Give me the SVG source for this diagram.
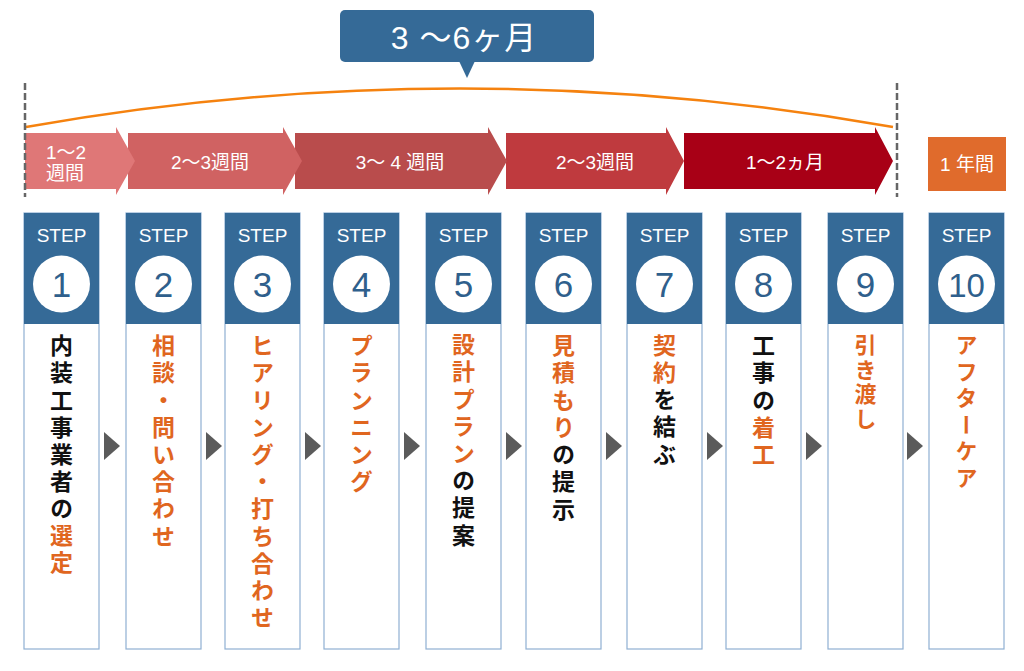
<svg xmlns="http://www.w3.org/2000/svg" width="1024" height="671" viewBox="0 0 1024 671">
<style>
.card{fill:#ffffff;stroke:#8fb0d2;stroke-width:1.2}
.hdr{fill:#356a97}
.circ{fill:#ffffff}
.step{font-family:"Liberation Sans","Noto Sans",sans-serif;font-size:19px;fill:#ffffff;text-anchor:middle}
.num{font-family:"Liberation Sans","Noto Sans",sans-serif;font-size:35px;fill:#2f5f8c;text-anchor:middle}
.vt{font-family:"Noto Sans CJK JP","Noto Sans CJK SC",sans-serif;font-size:23px;font-weight:700;writing-mode:vertical-rl;letter-spacing:4.2px}
.or{fill:#e0661f}
.bk{fill:#111111}
.tri{fill:#5b5b5b}
.dur{font-family:"Liberation Sans","Noto Sans CJK JP",sans-serif;font-size:19px;fill:#ffffff;text-anchor:middle}
.dash{stroke:#666666;stroke-width:2.5;stroke-dasharray:7 3;fill:none}
</style>

<g id="timeline">
  <path d="M26,127 Q460,50 893,127" fill="none" stroke="#f5820f" stroke-width="2.5"/>
  <g id="callout">
    <rect x="340" y="10" width="254" height="52" rx="5" fill="#356a97"/>
    <polygon points="459,61 475,61 467,78" fill="#356a97"/>
    <text x="464" y="49" font-family="Liberation Sans,'Noto Sans CJK JP',sans-serif" font-size="32" fill="#ffffff" text-anchor="middle" letter-spacing="1">3 〜6ヶ月</text>
  </g>
  <g id="dur5"><path d="M684,133 H875 V127 L893,161 L875,195 V189 H684 Z" fill="#a80016"/><text class="dur" x="785" y="169">1〜2ヵ月</text></g>
  <g id="dur4"><path d="M506,133 H666 V127 L684,161 L666,195 V189 H506 Z" fill="#bf3a3e"/><text class="dur" x="595" y="169">2〜3週間</text></g>
  <g id="dur3"><path d="M295,133 H488 V127 L507,161 L488,195 V189 H295 Z" fill="#b94c4c"/><text class="dur" x="400" y="169">3〜 4 週間</text></g>
  <g id="dur2"><path d="M128,133 H283 V127 L302,161 L283,195 V189 H128 Z" fill="#d06262"/><text class="dur" x="210" y="169">2〜3週間</text></g>
  <g id="dur1"><path d="M25,133 H116 V127 L135,161 L116,195 V189 H25 Z" fill="#df7777"/><text class="dur" x="66" y="159" font-size="18">1〜2</text><text class="dur" x="65" y="180" font-size="18">週間</text></g>
  <g id="dur6"><rect x="928" y="137" width="78" height="54" fill="#e06b2c"/><text class="dur" x="967" y="171">1 年間</text></g>
  <line class="dash" x1="25" y1="83" x2="25" y2="197"/>
  <line class="dash" x1="897" y1="83" x2="897" y2="197"/>
</g>

<g id="step1">
  <rect class="card" x="24" y="213" width="75" height="436"/>
  <rect class="hdr" x="24" y="213" width="75" height="111"/>
  <text class="step" x="61.5" y="242">STEP</text>
  <circle class="circ" cx="61.5" cy="284" r="28.5"/>
  <text class="num" x="61.5" y="297">1</text>
  <text class="vt" x="61.5" y="334"><tspan class="bk">内装工事業者の</tspan><tspan class="or">選定</tspan></text>
</g>
<g id="step2">
  <rect class="card" x="126" y="213" width="75" height="436"/>
  <rect class="hdr" x="126" y="213" width="75" height="111"/>
  <text class="step" x="163.5" y="242">STEP</text>
  <circle class="circ" cx="163.5" cy="284" r="28.5"/>
  <text class="num" x="163.5" y="297">2</text>
  <text class="vt or" x="163.5" y="334">相談・問い合わせ</text>
</g>
<g id="step3">
  <rect class="card" x="225" y="213" width="75" height="436"/>
  <rect class="hdr" x="225" y="213" width="75" height="111"/>
  <text class="step" x="262.5" y="242">STEP</text>
  <circle class="circ" cx="262.5" cy="284" r="28.5"/>
  <text class="num" x="262.5" y="297">3</text>
  <text class="vt or" x="262.5" y="334">ヒアリング・打ち合わせ</text>
</g>
<g id="step4">
  <rect class="card" x="324" y="213" width="75" height="436"/>
  <rect class="hdr" x="324" y="213" width="75" height="111"/>
  <text class="step" x="361.5" y="242">STEP</text>
  <circle class="circ" cx="361.5" cy="284" r="28.5"/>
  <text class="num" x="361.5" y="297">4</text>
  <text class="vt or" x="361.5" y="334">プランニング</text>
</g>
<g id="step5">
  <rect class="card" x="426" y="213" width="75" height="436"/>
  <rect class="hdr" x="426" y="213" width="75" height="111"/>
  <text class="step" x="463.5" y="242">STEP</text>
  <circle class="circ" cx="463.5" cy="284" r="28.5"/>
  <text class="num" x="463.5" y="297">5</text>
  <text class="vt" x="463.5" y="333"><tspan class="or">設計プラン</tspan><tspan class="bk">の提案</tspan></text>
</g>
<g id="step6">
  <rect class="card" x="526" y="213" width="75" height="436"/>
  <rect class="hdr" x="526" y="213" width="75" height="111"/>
  <text class="step" x="563.5" y="242">STEP</text>
  <circle class="circ" cx="563.5" cy="284" r="28.5"/>
  <text class="num" x="563.5" y="297">6</text>
  <text class="vt" x="563.5" y="334"><tspan class="or">見積もり</tspan><tspan class="bk">の提示</tspan></text>
</g>
<g id="step7">
  <rect class="card" x="627" y="213" width="75" height="436"/>
  <rect class="hdr" x="627" y="213" width="75" height="111"/>
  <text class="step" x="664.5" y="242">STEP</text>
  <circle class="circ" cx="664.5" cy="284" r="28.5"/>
  <text class="num" x="664.5" y="297">7</text>
  <text class="vt" x="664.5" y="334"><tspan class="or">契約</tspan><tspan class="bk">を結ぶ</tspan></text>
</g>
<g id="step8">
  <rect class="card" x="726" y="213" width="75" height="436"/>
  <rect class="hdr" x="726" y="213" width="75" height="111"/>
  <text class="step" x="763.5" y="242">STEP</text>
  <circle class="circ" cx="763.5" cy="284" r="28.5"/>
  <text class="num" x="763.5" y="297">8</text>
  <text class="vt" x="763.5" y="334"><tspan class="bk">工事の</tspan><tspan class="or">着工</tspan></text>
</g>
<g id="step9">
  <rect class="card" x="828" y="213" width="75" height="436"/>
  <rect class="hdr" x="828" y="213" width="75" height="111"/>
  <text class="step" x="865.5" y="242">STEP</text>
  <circle class="circ" cx="865.5" cy="284" r="28.5"/>
  <text class="num" x="865.5" y="297">9</text>
  <text class="vt or" x="865.5" y="334" style="font-size:22px;letter-spacing:2.5px">引き渡し</text>
</g>
<g id="step10">
  <rect class="card" x="929" y="213" width="75" height="436"/>
  <rect class="hdr" x="929" y="213" width="75" height="111"/>
  <text class="step" x="966.5" y="242">STEP</text>
  <circle class="circ" cx="966.5" cy="284" r="28.5"/>
  <text class="num" x="966.5" y="297" style="font-size:33px">10</text>
  <text class="vt or" x="966.5" y="334" style="font-size:22px;letter-spacing:4.5px">アフターケア</text>
</g>

<g id="connectors">
  <polygon class="tri" points="104,432 120,446 104,460"/>
  <polygon class="tri" points="206,432 222,446 206,460"/>
  <polygon class="tri" points="305,432 321,446 305,460"/>
  <polygon class="tri" points="404,432 420,446 404,460"/>
  <polygon class="tri" points="506,432 522,446 506,460"/>
  <polygon class="tri" points="606,432 622,446 606,460"/>
  <polygon class="tri" points="707,432 723,446 707,460"/>
  <polygon class="tri" points="806,432 822,446 806,460"/>
  <polygon class="tri" points="907,432 923,446 907,460"/>
</g>
</svg>
